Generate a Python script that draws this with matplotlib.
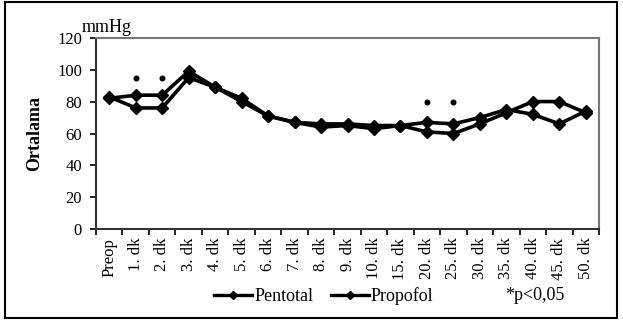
import matplotlib
matplotlib.use("Agg")
import matplotlib.pyplot as plt
from matplotlib.patches import Rectangle
from matplotlib.lines import Line2D

# data
categories = ["Preop", "1. dk", "2. dk", "3. dk", "4. dk", "5. dk", "6. dk", "7. dk",
              "8. dk", "9. dk", "10. dk", "15. dk", "20. dk", "25. dk", "30. dk",
              "35. dk", "40. dk", "45. dk", "50. dk"]
pentotal = [82, 84, 84, 99, 89, 82, 71, 67, 66, 66, 65, 65, 67, 66, 70, 75, 72, 66, 74]
propofol = [83, 76, 76, 95, 89, 80, 71, 67, 64, 65, 63, 65, 61, 60, 66, 73, 80, 80, 73]
sig_idx = [1, 2, 12, 13]
sig_y = [95, 95, 80, 80]
y_ticks = [0, 20, 40, 60, 80, 100, 120]

plt.rcParams["font.family"] = ["Liberation Serif", "DejaVu Serif"]

fig = plt.figure(figsize=(6.23, 3.25), dpi=100)
ax = fig.add_axes([96 / 623, 1 - 229.3 / 325, (599 - 96) / 623, (229.3 - 37.7) / 325])

x = list(range(len(categories)))
style = dict(color="black", lw=2.6, marker="D", markersize=6.5)
ax.plot(x, pentotal, label="Pentotal", **style)
ax.plot(x, propofol, label="Propofol", **style)
ax.plot(sig_idx, sig_y, "o", color="black", markersize=3.3, linestyle="none")

ax.set_xlim(-0.5, len(categories) - 0.5)
ax.set_ylim(0, 120)
ax.set_yticks(y_ticks)
ax.tick_params(axis="y", labelsize=12, length=4, width=1.2, pad=6)
ax.set_xticks(x)
ax.set_xticklabels(categories, rotation=90, fontsize=12)
ax.set_xticks([i - 0.5 for i in range(len(categories) + 1)], minor=True)
ax.tick_params(axis="x", which="major", length=0, pad=6)
ax.tick_params(axis="x", which="minor", length=4, width=1.2, direction="out")

for side in ("left", "bottom"):
    ax.spines[side].set_linewidth(1.5)
    ax.spines[side].set_color("#333333")
for side in ("top", "right"):
    ax.spines[side].set_linewidth(1.5)
    ax.spines[side].set_color("#777777")

ax.set_ylabel("Ortalama", fontsize=13, fontweight="bold", labelpad=10)
fig.text(82 / 623, 1 - 27 / 325, "mmHg", fontsize=13, va="center", ha="left")

handles = [Line2D([], [], color="black", lw=2.4, marker="D", markersize=4)] * 2
fig.legend(handles, ["Pentotal", "Propofol"], loc="center", ncol=2, frameon=False,
           bbox_to_anchor=(324 / 623, 1 - 296 / 325), fontsize=13,
           handlelength=2.1, handletextpad=0.1, columnspacing=1.0)
fig.text(505 / 623, 1 - 296 / 325, "*p<0,05", fontsize=13, va="center", ha="left")

fig.patches.append(Rectangle((5 / 623, 7 / 325), 612 / 623, 316 / 325,
                             transform=fig.transFigure, fill=False,
                             edgecolor="black", lw=1.5))

fig.savefig("out.png", dpi=100)
